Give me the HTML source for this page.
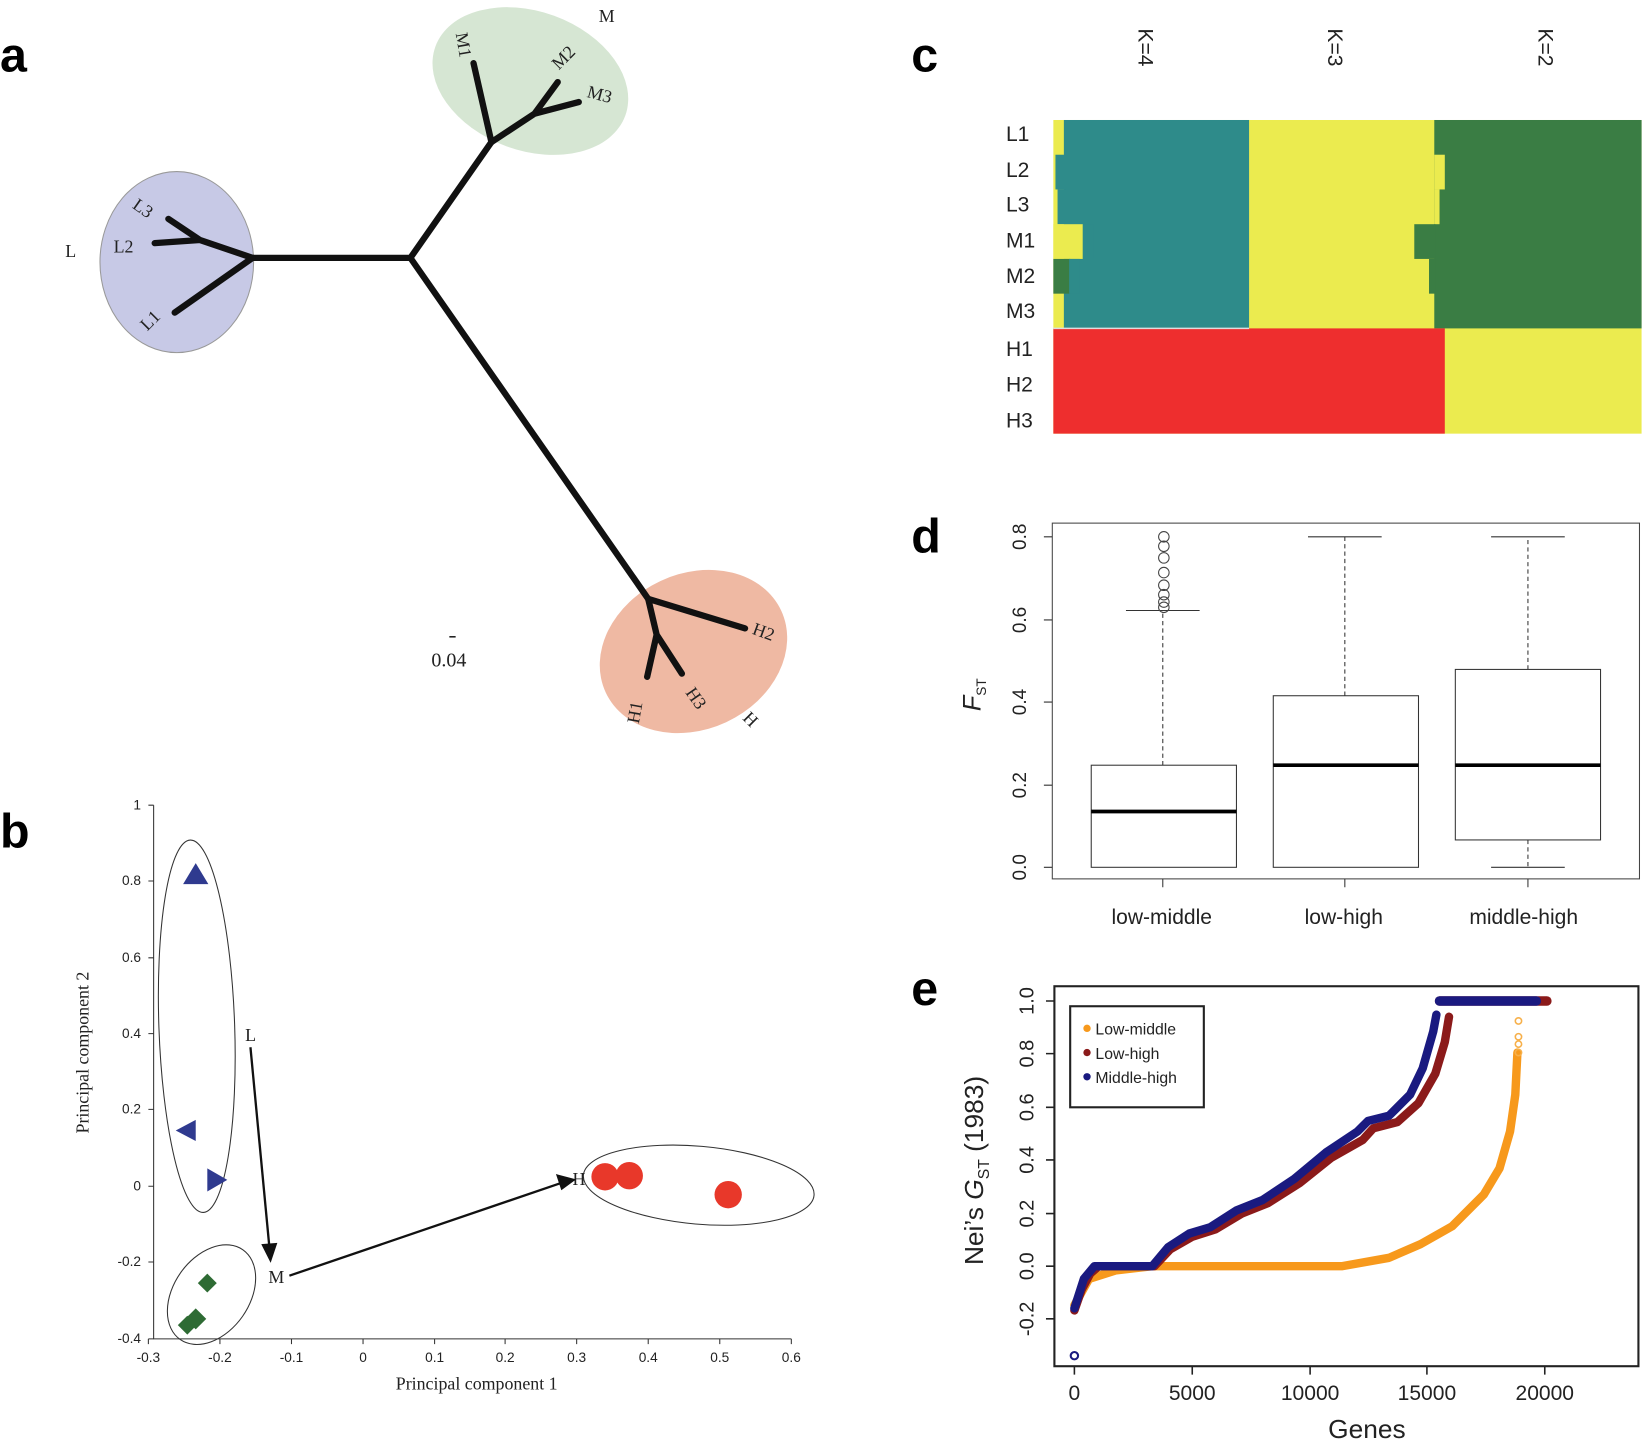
<!DOCTYPE html>
<html><head><meta charset="utf-8"><style>html,body{margin:0;padding:0;background:#fff}svg{display:block}</style></head>
<body>
<svg width="1650" height="1442" viewBox="0 0 1568 1370" preserveAspectRatio="none" xmlns="http://www.w3.org/2000/svg">
<g font-family="Liberation Sans, sans-serif" font-weight="bold" font-size="46">
<text x="0" y="68">a</text><text x="0" y="805">b</text><text x="866" y="68">c</text><text x="866" y="525">d</text><text x="866" y="955">e</text>
</g>
<!-- panel a -->
<ellipse cx="504" cy="77" rx="96" ry="66" transform="rotate(20 504 77)" fill="#d6e6d3"/>
<ellipse cx="168" cy="249" rx="73" ry="86" fill="#c7c9e6" stroke="#999" stroke-width="1"/>
<ellipse cx="659" cy="619" rx="92" ry="74" transform="rotate(-25 659 619)" fill="#efb9a3"/>
<g stroke="#111" stroke-width="6" fill="none" stroke-linecap="round">
<path d="M240 245 L390 245 L467 135 M390 245 L616 569"/>
<path d="M467 135 L450 60 M467 135 L508 108 L530 78 M508 108 L550 97"/>
<path d="M240 245 L190 228 L160 208 M190 228 L147 231 M240 245 L166 297"/>
<path d="M616 569 L708 597 M616 569 L624 603 L615 643 M624 603 L648 640"/>
</g>
<g font-family="Liberation Serif, serif" font-size="17" fill="#222">
<text x="569" y="21">M</text><text x="62" y="244">L</text><text x="108" y="240">L2</text>
<text x="125" y="197" transform="rotate(35 125 197)">L3</text>
<text x="140" y="315" transform="rotate(-45 140 315)">L1</text>
<text x="433" y="32" transform="rotate(80 433 32)">M1</text>
<text x="531" y="67" transform="rotate(-45 531 67)">M2</text>
<text x="557" y="92" transform="rotate(15 557 92)">M3</text>
<text x="714" y="602" transform="rotate(20 714 602)">H2</text>
<text x="607" y="688" transform="rotate(-80 607 688)">H1</text>
<text x="651" y="658" transform="rotate(55 651 658)">H3</text>
<text x="705" y="683" transform="rotate(45 705 683)">H</text>
<text x="410" y="633" font-size="19">0.04</text>
<line x1="427" y1="605" x2="433" y2="605" stroke="#222" stroke-width="1.5"/>
</g>
<!-- panel b -->
<g stroke="#333" stroke-width="1" fill="none">
<path d="M146 765 V1272 H752"/>
<ellipse cx="187" cy="975" rx="36" ry="177" transform="rotate(-2 187 975)"/>
<ellipse cx="201" cy="1230" rx="36" ry="52" transform="rotate(35 201 1230)"/>
<ellipse cx="664" cy="1126" rx="110" ry="37" transform="rotate(5 664 1126)"/>
</g>
<g stroke="#333" stroke-width="1">
<path d="M141 765h5M141 837h5M141 910h5M141 982h5M141 1054h5M141 1127h5M141 1199h5M141 1272h5"/>
<path d="M141 1272v5M209 1272v5M277 1272v5M345 1272v5M413 1272v5M480 1272v5M548 1272v5M616 1272v5M684 1272v5M752 1272v5"/>
</g>
<g font-family="Liberation Sans, sans-serif" font-size="13" fill="#222" text-anchor="end">
<text x="134" y="769">1</text><text x="134" y="841">0.8</text><text x="134" y="914">0.6</text><text x="134" y="986">0.4</text><text x="134" y="1058">0.2</text><text x="134" y="1131">0</text><text x="134" y="1203">-0.2</text><text x="134" y="1276">-0.4</text>
</g>
<g font-family="Liberation Sans, sans-serif" font-size="13" fill="#222" text-anchor="middle">
<text x="141" y="1294">-0.3</text><text x="209" y="1294">-0.2</text><text x="277" y="1294">-0.1</text><text x="345" y="1294">0</text><text x="413" y="1294">0.1</text><text x="480" y="1294">0.2</text><text x="548" y="1294">0.3</text><text x="616" y="1294">0.4</text><text x="684" y="1294">0.5</text><text x="752" y="1294">0.6</text>
</g>
<g font-family="Liberation Serif, serif" font-size="17" fill="#222">
<text x="453" y="1320" text-anchor="middle">Principal component 1</text>
<text x="84" y="1000" text-anchor="middle" transform="rotate(-90 84 1000)">Principal component 2</text>
<text x="233" y="989">L</text><text x="255" y="1219">M</text><text x="544" y="1126">H</text>
</g>
<g stroke="#111" stroke-width="2.2" fill="#111">
<line x1="238" y1="995" x2="256" y2="1185"/><path d="M250 1183 L257 1197 L262 1182Z"/>
<line x1="275" y1="1212" x2="533" y2="1124"/><path d="M530 1117 L545 1121 L534 1129Z"/>
</g>
<g fill="#2f3a8f">
<path d="M174 840 L186 820 L198 840Z"/><path d="M186 1064 L186 1084 L167 1074Z"/><path d="M197 1110 L197 1132 L216 1121Z"/>
</g>
<g fill="#2e6b34">
<path d="M197 1210 L206 1219 L197 1228 L188 1219Z"/><path d="M186 1243 L196 1253 L186 1263 L176 1253Z"/><path d="M178 1250 L187 1259 L178 1268 L169 1259Z"/>
</g>
<g fill="#e8382a"><circle cx="575" cy="1118" r="13"/><circle cx="598" cy="1117" r="13"/><circle cx="692" cy="1135" r="13"/></g>
<!-- panel c -->
<rect x="1001" y="114" width="559" height="298" fill="#ebeb4f"/>
<rect x="1011" y="114" width="176" height="198" fill="#2e8b8a"/>
<rect x="1003" y="147" width="10" height="33" fill="#2e8b8a"/>
<rect x="1005" y="180" width="8" height="33" fill="#2e8b8a"/>
<rect x="1001" y="213" width="28" height="33" fill="#ebeb4f"/>
<rect x="1029" y="213" width="10" height="33" fill="#2e8b8a"/>
<rect x="1001" y="246" width="16" height="33" fill="#3a7d44"/>
<rect x="1016" y="246" width="10" height="33" fill="#2e8b8a"/>
<rect x="1363" y="114" width="197" height="198" fill="#3a7d44"/>
<rect x="1363" y="147" width="10" height="33" fill="#ebeb4f"/>
<rect x="1363" y="180" width="5" height="33" fill="#ebeb4f"/>
<rect x="1344" y="213" width="20" height="33" fill="#3a7d44"/>
<rect x="1358" y="246" width="6" height="33" fill="#3a7d44"/>
<rect x="1001" y="312" width="372" height="100" fill="#ee2e2e"/>
<line x1="1001" y1="312" x2="1187" y2="312" stroke="#ddd" stroke-width="1.5"/>
<g font-family="Liberation Sans, sans-serif" font-size="20" fill="#222">
<text x="956" y="134">L1</text><text x="956" y="168">L2</text><text x="956" y="201">L3</text><text x="956" y="235">M1</text><text x="956" y="269">M2</text><text x="956" y="302">M3</text><text x="956" y="338">H1</text><text x="956" y="372">H2</text><text x="956" y="406">H3</text>
<text x="1082" y="27" transform="rotate(90 1082 27)">K=4</text>
<text x="1262" y="27" transform="rotate(90 1262 27)">K=3</text>
<text x="1462" y="27" transform="rotate(90 1462 27)">K=2</text>
</g>
<!-- panel d -->
<rect x="1000" y="497" width="558" height="338" fill="none" stroke="#444" stroke-width="1"/>
<g stroke="#333" stroke-width="1" fill="none">
<path d="M992 510h8M992 589h8M992 667h8M992 746h8M992 824h8"/>
<path d="M1105 835v8M1278 835v8M1452 835v8"/>
<rect x="1037" y="727" width="138" height="97"/><rect x="1210" y="661" width="138" height="163"/><rect x="1383" y="636" width="138" height="162"/>
<path d="M1070 580h70M1243 510h70M1417 510h70M1417 824h70"/>
<path d="M1105 727V580M1278 661V510M1452 636V510M1452 798V824" stroke-dasharray="4 3"/>
<g stroke="#444"><circle cx="1106" cy="510" r="5"/><circle cx="1106" cy="519" r="5"/><circle cx="1106" cy="530" r="5"/><circle cx="1106" cy="544" r="5"/><circle cx="1106" cy="556" r="5"/><circle cx="1106" cy="565" r="5"/><circle cx="1106" cy="572" r="5"/><circle cx="1106" cy="577" r="5"/></g>
</g>
<g stroke="#000" stroke-width="3.5"><path d="M1037 771h138M1210 727h138M1383 727h138"/></g>
<g font-family="Liberation Sans, sans-serif" font-size="18" fill="#222" text-anchor="middle">
<text transform="translate(975 510) rotate(-90)">0.8</text><text transform="translate(975 589) rotate(-90)">0.6</text><text transform="translate(975 667) rotate(-90)">0.4</text><text transform="translate(975 746) rotate(-90)">0.2</text><text transform="translate(975 824) rotate(-90)">0.0</text>
<text x="1104" y="878" font-size="20">low-middle</text><text x="1277" y="878" font-size="20">low-high</text><text x="1448" y="878" font-size="20">middle-high</text>
<text transform="translate(932 660) rotate(-90)" font-size="24" font-style="italic">F<tspan font-size="13" font-style="normal" dy="5">ST</tspan></text>
</g>
<!-- panel e -->
<rect x="1002" y="937" width="555" height="361" fill="none" stroke="#222" stroke-width="2"/>
<g stroke="#222" stroke-width="1.5">
<path d="M994 951h8M994 1001h8M994 1052h8M994 1102h8M994 1153h8M994 1203h8M994 1253h8"/>
<path d="M1021 1298v8M1133 1298v8M1245 1298v8M1356 1298v8M1468 1298v8"/>
</g>
<g font-family="Liberation Sans, sans-serif" font-size="19" fill="#222" text-anchor="middle">
<text transform="translate(982 951) rotate(-90)">1.0</text><text transform="translate(982 1001) rotate(-90)">0.8</text><text transform="translate(982 1052) rotate(-90)">0.6</text><text transform="translate(982 1102) rotate(-90)">0.4</text><text transform="translate(982 1153) rotate(-90)">0.2</text><text transform="translate(982 1203) rotate(-90)">0.0</text><text transform="translate(982 1253) rotate(-90)">-0.2</text>
<text x="1021" y="1330" font-size="20">0</text><text x="1133" y="1330" font-size="20">5000</text><text x="1245" y="1330" font-size="20">10000</text><text x="1356" y="1330" font-size="20">15000</text><text x="1468" y="1330" font-size="20">20000</text>
<text x="1299" y="1366" font-size="25">Genes</text>
<text transform="translate(934 1112) rotate(-90)" font-size="25">Nei’s <tspan font-style="italic">G</tspan><tspan font-size="15" dy="6">ST</tspan><tspan dy="-6"> (1983)</tspan></text>
</g>
<g fill="none" stroke-linejoin="round" stroke-linecap="round">
<polyline stroke="#f7991c" stroke-width="8" points="1021,1240 1035,1215 1060,1207 1095,1203 1275,1203 1320,1195 1350,1182 1380,1165 1410,1135 1425,1110 1435,1075 1440,1040 1442,1000"/>
<polyline stroke="#8b1a1a" stroke-width="8" points="1021,1245 1028,1225 1036,1210 1044,1203 1097,1203 1112,1187 1133,1175 1155,1168 1180,1153 1205,1143 1235,1124 1265,1100 1295,1083 1305,1072 1328,1066 1348,1048 1364,1020 1373,990 1377,966"/>
<polyline stroke="#1a1a80" stroke-width="8" points="1021,1243 1030,1215 1040,1203 1095,1203 1110,1185 1130,1172 1150,1166 1175,1150 1200,1140 1230,1120 1260,1095 1290,1075 1300,1065 1320,1060 1340,1040 1352,1015 1362,980 1365,964"/>
<line x1="1368" y1="951" x2="1470" y2="951" stroke="#8b1a1a" stroke-width="9"/>
<line x1="1368" y1="951" x2="1460" y2="951" stroke="#1a1a80" stroke-width="9"/>
<g stroke="#f7b04a" stroke-width="1.5"><circle cx="1443" cy="970" r="3"/><circle cx="1443" cy="985" r="3"/><circle cx="1443" cy="992" r="3"/><circle cx="1443" cy="1000" r="3"/></g>
<circle cx="1021" cy="1288" r="3.5" stroke="#1a1a80" stroke-width="2"/>
</g>
<rect x="1017" y="956" width="127" height="96" fill="#fff" stroke="#222" stroke-width="2"/>
<circle cx="1033" cy="977" r="3.5" fill="#f7991c"/><circle cx="1033" cy="1000" r="3.5" fill="#8b1a1a"/><circle cx="1033" cy="1023" r="3.5" fill="#1a1a80"/>
<g font-family="Liberation Sans, sans-serif" font-size="15" fill="#222">
<text x="1041" y="983">Low-middle</text><text x="1041" y="1006">Low-high</text><text x="1041" y="1029">Middle-high</text>
</g>
</svg>
</body></html>
